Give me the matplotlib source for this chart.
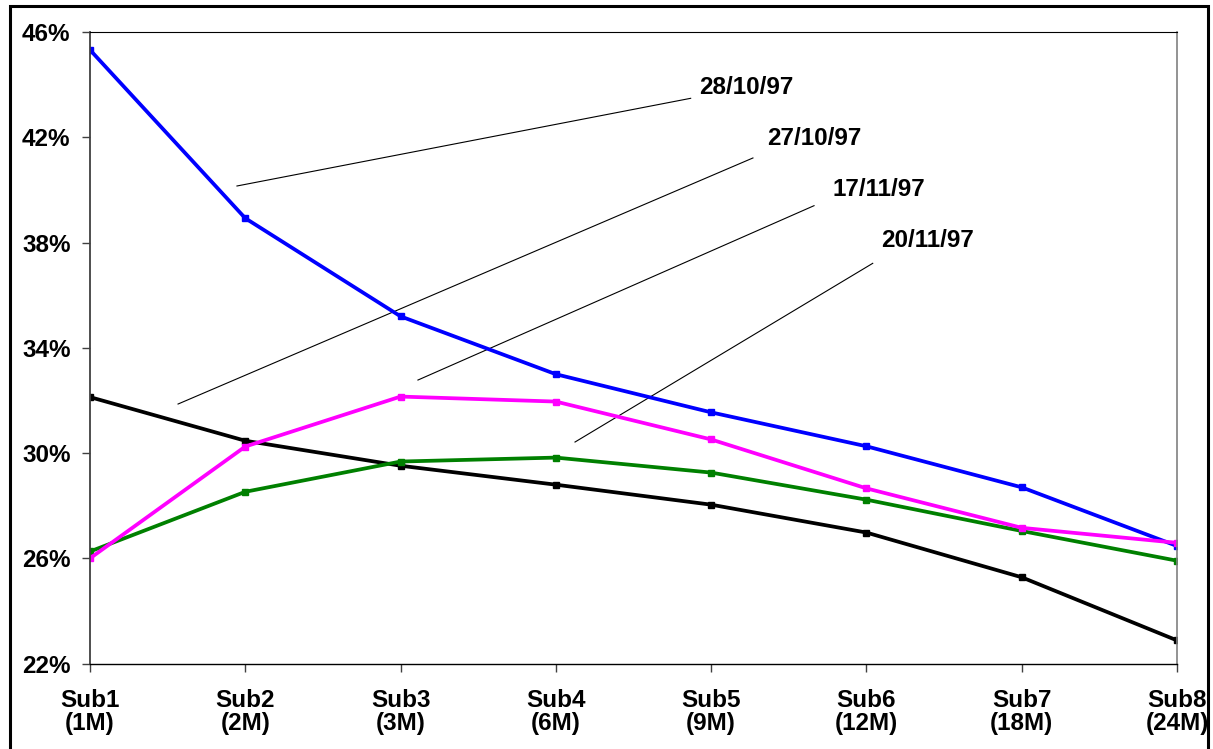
import matplotlib
matplotlib.use("Agg")
import matplotlib.pyplot as plt
from matplotlib.patches import Rectangle
from matplotlib.ticker import FuncFormatter

plt.rcParams['font.family'] = ['Liberation Sans', 'DejaVu Sans']

categories = ['Sub1\n(1M)', 'Sub2\n(2M)', 'Sub3\n(3M)', 'Sub4\n(6M)',
              'Sub5\n(9M)', 'Sub6\n(12M)', 'Sub7\n(18M)', 'Sub8\n(24M)']

# curve values in %
d_27_10 = [32.13, 30.47, 29.52, 28.80, 28.04, 26.98, 25.28, 22.88]
d_28_10 = [45.33, 38.93, 35.20, 33.00, 31.55, 30.26, 28.70, 26.47]
d_20_11 = [26.26, 28.53, 29.68, 29.83, 29.26, 28.23, 27.04, 25.91]
d_17_11 = [26.00, 30.25, 32.15, 31.96, 30.52, 28.66, 27.16, 26.59]

yticks = [22, 26, 30, 34, 38, 42, 46]

labels = ['28/10/97', '27/10/97', '17/11/97', '20/11/97']

fig = plt.figure(figsize=(12.13, 7.49), dpi=100)
ax = fig.add_axes([0.0742, 0.1141, 0.8961, 0.8428])

x = range(len(categories))
series = [(d_27_10, 'black'), (d_28_10, '#0000FF'),
          (d_20_11, '#008000'), (d_17_11, '#FF00FF')]
for vals, col in series:
    ax.plot(x, vals, color=col, lw=2.7, marker='s', ms=5, mec=col, mfc=col)

ax.set_xlim(0, 7)
ax.set_ylim(22, 46)
ax.set_yticks(yticks)
ax.yaxis.set_major_formatter(FuncFormatter(lambda v, p: '%d%%' % v))
ax.set_xticks(list(x))
ax.set_xticklabels(categories, linespacing=1.05)

for lab in ax.get_xticklabels() + ax.get_yticklabels():
    lab.set_fontweight('bold')
    lab.set_fontsize(17.5)
ax.tick_params(axis='y', length=6, width=1, pad=8, color='#404040')
ax.tick_params(axis='x', length=6, width=1, pad=12, color='#404040')

ax.spines['left'].set_color('#404040')
ax.spines['left'].set_linewidth(1.3)
ax.spines['bottom'].set_color('black')
ax.spines['bottom'].set_linewidth(1.0)
ax.spines['top'].set_color('black')
ax.spines['top'].set_linewidth(0.8)
ax.spines['right'].set_color('#808080')
ax.spines['right'].set_linewidth(1.2)

# label leader lines (axes fraction)
starts = [(0.1352, 0.7565), (0.0810, 0.4111), (0.3017, 0.4491), (0.4462, 0.3509)]
ends = [(0.5526, 0.8954), (0.6099, 0.8009), (0.6661, 0.7253), (0.7201, 0.6340)]
text_pos = [(0.5603, 0.9133), (0.6225, 0.8325), (0.6835, 0.7502), (0.7277, 0.6694)]
for lab, s, e, t in zip(labels, starts, ends, text_pos):
    ax.plot([s[0], e[0]], [s[1], e[1]], color='black', lw=0.8,
            transform=ax.transAxes, zorder=1)
    ax.text(t[0], t[1], lab, transform=ax.transAxes, fontsize=17.5,
            fontweight='bold', ha='left', va='center')

# outer frame of the picture
fig.patches.append(Rectangle((10 / 1213, -0.05), 1198 / 1213, 1.05 - 6 / 749,
                             transform=fig.transFigure, fill=False,
                             edgecolor='black', lw=2.2))

fig.savefig('out.png', dpi=100)
